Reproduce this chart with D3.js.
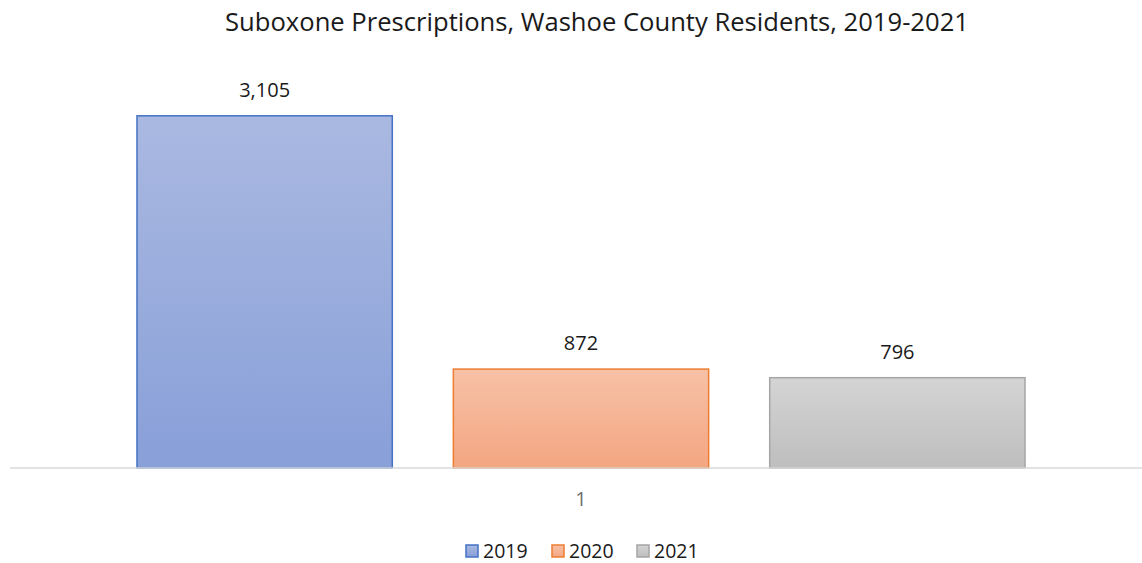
<!DOCTYPE html>
<html>
<head>
  <script src="https://d3js.org/d3.v7.min.js"></script>
  <style>
    body {
      margin: 0;
      background-color: #ffffff;
      overflow: hidden;
    }
    text {
      font-family: "Open Sans", "Noto Sans", sans-serif;
    }
  </style>
</head>
<body>
  <script>
    const categories = ["1"];
    const years = ["2019", "2020", "2021"];
    const values = [3105, 872, 796];
    const yTicks = [0, 3500];

    const strokeColors = ["#4472c4", "#ed7d31", "#a5a5a5"];
    const topColors = ["#aab9e1", "#f7c1a6", "#d4d4d4"];
    const bottomColors = ["#889fd8", "#f4a682", "#bebebe"];

    const width = 1142;
    const height = 563;
    const baseY = 468;

    const svg = d3.select("body").append("svg")
      .attr("width", width)
      .attr("height", height);

    const defs = svg.append("defs");
    years.forEach((yr, i) => {
      const g = defs.append("linearGradient")
        .attr("id", "grad" + yr)
        .attr("x1", 0).attr("y1", 0).attr("x2", 0).attr("y2", 1);
      g.append("stop").attr("offset", "0%").attr("stop-color", topColors[i]);
      g.append("stop").attr("offset", "100%").attr("stop-color", bottomColors[i]);
    });

    const x0 = d3.scaleBand()
      .domain(categories)
      .range([10, 1152])
      .paddingInner(0)
      .paddingOuter(0.143);

    const x1 = d3.scaleBand()
      .domain(years)
      .range([0, x0.bandwidth()])
      .paddingInner(0.193)
      .paddingOuter(0);

    const y = d3.scaleLinear()
      .domain([yTicks[0], yTicks[1]])
      .range([baseY, 71]);

    // title
    svg.append("text")
      .attr("x", 597)
      .attr("y", 31)
      .attr("text-anchor", "middle")
      .attr("font-size", "25.6px")
      .attr("fill", "#1a1a1a")
      .text("Suboxone Prescriptions, Washoe County Residents, 2019-2021");

    // bars
    const group = svg.append("g")
      .selectAll("g")
      .data(categories)
      .enter().append("g")
      .attr("transform", d => `translate(${x0(d)},0)`);

    const rows = years.map((yr, i) => ({ year: yr, value: values[i], i: i }));

    group.selectAll("rect")
      .data(rows)
      .enter().append("rect")
      .attr("x", d => x1(d.year))
      .attr("y", d => y(d.value))
      .attr("width", x1.bandwidth())
      .attr("height", d => baseY - y(d.value))
      .attr("fill", d => `url(#grad${d.year})`)
      .attr("stroke", d => strokeColors[d.i])
      .attr("stroke-width", 1.5);

    group.selectAll("text.val")
      .data(rows)
      .enter().append("text")
      .attr("class", "val")
      .attr("x", d => x1(d.year) + x1.bandwidth() / 2)
      .attr("y", d => y(d.value) - 19)
      .attr("text-anchor", "middle")
      .attr("font-size", "20px")
      .attr("fill", "#1a1a1a")
      .text(d => d3.format(",")(d.value));

    // axis
    const xAxis = svg.append("g")
      .attr("transform", `translate(0,${baseY})`)
      .call(d3.axisBottom(x0).tickSize(0).tickPadding(0));
    xAxis.select(".domain")
      .attr("d", `M10,0H${width}`)
      .attr("stroke", "#d9d9d9")
      .attr("stroke-width", 1.5);
    xAxis.selectAll("text")
      .attr("y", 38)
      .attr("dy", null)
      .attr("font-size", "20px")
      .attr("fill", "#707070")
      .style("font-family", "'Open Sans', sans-serif");

    // legend
    const legendX = [466, 552, 637];
    const legend = svg.append("g")
      .selectAll("g")
      .data(rows)
      .enter().append("g")
      .attr("transform", d => `translate(${legendX[d.i]},545)`);

    legend.append("rect")
      .attr("width", 12)
      .attr("height", 12)
      .attr("fill", d => `url(#grad${d.year})`)
      .attr("stroke", d => strokeColors[d.i])
      .attr("stroke-width", 1.5);

    legend.append("text")
      .attr("x", 17)
      .attr("y", 12.5)
      .attr("font-size", "19.5px")
      .attr("fill", "#1a1a1a")
      .text(d => d.year);
  </script>
</body>
</html>
